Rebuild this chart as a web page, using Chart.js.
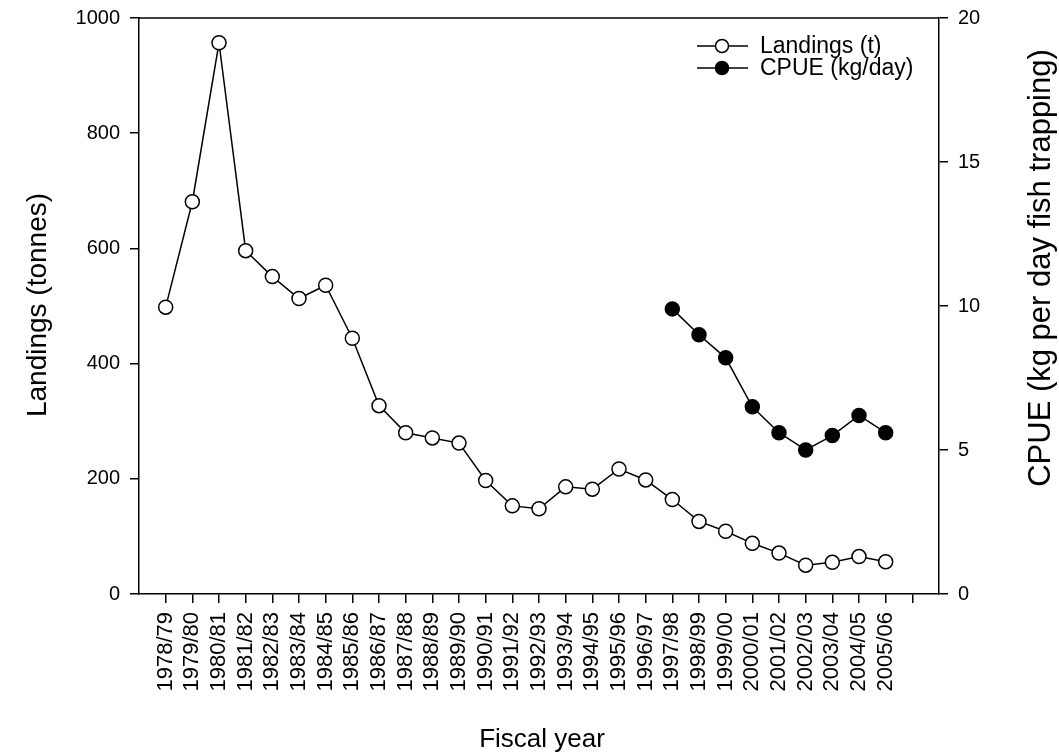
<!DOCTYPE html>
<html>
<head>
<meta charset="utf-8">
<script src="https://cdn.jsdelivr.net/npm/chart.js@4.4.1/dist/chart.umd.min.js"></script>
<style>
  html, body { margin: 0; padding: 0; background: #fff; }
  #wrap { width: 1059px; height: 755px; }
</style>
</head>
<body>
<div id="wrap"><canvas id="landingsChart" width="1059" height="755"></canvas></div>
<script>
const fiscalYears = ['1978/79', '1979/80', '1980/81', '1981/82', '1982/83', '1983/84', '1984/85',
  '1985/86', '1986/87', '1987/88', '1988/89', '1989/90', '1990/91', '1991/92', '1992/93',
  '1993/94', '1994/95', '1995/96', '1996/97', '1997/98', '1998/99', '1999/00', '2000/01',
  '2001/02', '2002/03', '2003/04', '2004/05', '2005/06'];

// landings in tonnes, one per fiscal year
const landings = [498, 681, 957, 596, 551, 513, 536, 444, 327, 280, 271, 262, 197, 153, 148,
  186, 182, 217, 198, 164, 126, 109, 88, 71, 50, 55, 65, 56];

// CPUE (kg/day) only recorded from 1997/98 on
const cpueYears = ['1997/98', '1998/99', '1999/00', '2000/01', '2001/02', '2002/03', '2003/04', '2004/05', '2005/06'];
const cpue = [9.9, 9.0, 8.2, 6.5, 5.6, 5.0, 5.5, 6.2, 5.6];

const landingsTicks = [0, 200, 400, 600, 800, 1000];
const cpueTicks = [0, 5, 10, 15, 20];

const FONT = 'Arial, "Liberation Sans", sans-serif';
const ink = '#000';

const landingsData = landings.map((v, i) => ({ x: i, y: v }));
const cpueData = cpue.map((v, i) => ({ x: fiscalYears.indexOf(cpueYears[i]), y: v }));

function rotatedText(ctx, text, x, y, size) {
  ctx.save();
  ctx.fillStyle = ink;
  ctx.font = size + 'px ' + FONT;
  ctx.textAlign = 'center';
  ctx.textBaseline = 'middle';
  ctx.translate(x, y);
  ctx.rotate(-Math.PI / 2);
  ctx.fillText(text, 0, 0);
  ctx.restore();
}

// top edge of the frame, axis titles and the inline legend
const extras = {
  id: 'extras',
  afterDraw(chart) {
    const { ctx, chartArea: a } = chart;
    ctx.save();
    ctx.strokeStyle = ink;
    ctx.lineWidth = 1.5;
    ctx.beginPath();
    ctx.moveTo(a.left, a.top);
    ctx.lineTo(a.right, a.top);
    ctx.stroke();

    ctx.fillStyle = ink;
    ctx.font = '26px ' + FONT;
    ctx.textAlign = 'center';
    ctx.textBaseline = 'middle';
    ctx.fillText('Fiscal year', 542, 740);
    ctx.restore();

    rotatedText(ctx, 'Landings (tonnes)', 38, 305, 28);
    rotatedText(ctx, 'CPUE (kg per day fish trapping)', 1041, 268, 31);

    // legend
    ctx.save();
    const rows = [46, 68];
    chart.data.datasets.forEach((ds, k) => {
      const y = rows[k];
      ctx.strokeStyle = ink;
      ctx.lineWidth = 1.5;
      ctx.beginPath();
      ctx.moveTo(697, y);
      ctx.lineTo(748, y);
      ctx.stroke();
      ctx.beginPath();
      ctx.arc(722, y, 6.5, 0, Math.PI * 2);
      ctx.fillStyle = ds.pointBackgroundColor;
      ctx.fill();
      ctx.stroke();
      ctx.fillStyle = ink;
      ctx.font = '23px ' + FONT;
      ctx.textAlign = 'left';
      ctx.textBaseline = 'middle';
      ctx.fillText(ds.label, 760, y + 1);
    });
    ctx.restore();
  }
};

const axisCommon = {
  grid: { drawOnChartArea: false, color: ink, lineWidth: 1.5, tickLength: 9, tickWidth: 1.5 },
  border: { color: ink, width: 1.5 },
};

// fixed box sizes so the plot frame sits at 139..939 x 18..594
function fixWidth(w) {
  return (scale) => {
    scale.width = w;
    scale.paddingTop = 0;
    scale.paddingBottom = 0;
  };
}

new Chart(document.getElementById('landingsChart'), {
  type: 'line',
  data: {
    datasets: [
      {
        label: 'Landings (t)',
        data: landingsData,
        yAxisID: 'y',
        borderColor: ink,
        borderWidth: 1.5,
        pointRadius: 7,
        pointBorderWidth: 1.5,
        pointBackgroundColor: '#fff',
        pointBorderColor: ink,
        tension: 0
      },
      {
        label: 'CPUE (kg/day)',
        data: cpueData,
        yAxisID: 'y1',
        borderColor: ink,
        borderWidth: 1.5,
        pointRadius: 7,
        pointBorderWidth: 1.5,
        pointBackgroundColor: ink,
        pointBorderColor: ink,
        tension: 0
      }
    ]
  },
  options: {
    responsive: false,
    animation: false,
    layout: { padding: { top: 18, left: 0, right: 0, bottom: 0 } },
    plugins: {
      legend: { display: false },
      tooltip: { enabled: false }
    },
    scales: {
      x: {
        type: 'linear',
        min: -1,
        max: 29,
        ...axisCommon,
        afterBuildTicks(scale) {
          // one tick per fiscal year plus an empty slot at the end
          scale.ticks = fiscalYears.concat(['']).map((_, i) => ({ value: i }));
        },
        afterFit(scale) {
          scale.height = 161;
          scale.paddingLeft = 0;
          scale.paddingRight = 0;
        },
        ticks: {
          autoSkip: false,
          maxRotation: 90,
          minRotation: 90,
          padding: 9,
          color: ink,
          font: { family: FONT, size: 22 },
          callback: (v) => fiscalYears[v] || ''
        }
      },
      y: {
        position: 'left',
        min: 0,
        max: 1000,
        ...axisCommon,
        afterBuildTicks(scale) { scale.ticks = landingsTicks.map(v => ({ value: v })); },
        afterFit: fixWidth(139),
        ticks: { padding: 10, color: ink, font: { family: FONT, size: 20 }, callback: (v) => String(v) }
      },
      y1: {
        position: 'right',
        min: 0,
        max: 20,
        ...axisCommon,
        afterBuildTicks(scale) { scale.ticks = cpueTicks.map(v => ({ value: v })); },
        afterFit: fixWidth(120),
        ticks: { padding: 10, color: ink, font: { family: FONT, size: 20 }, callback: (v) => String(v) }
      }
    }
  },
  plugins: [extras]
});
</script>
</body>
</html>
